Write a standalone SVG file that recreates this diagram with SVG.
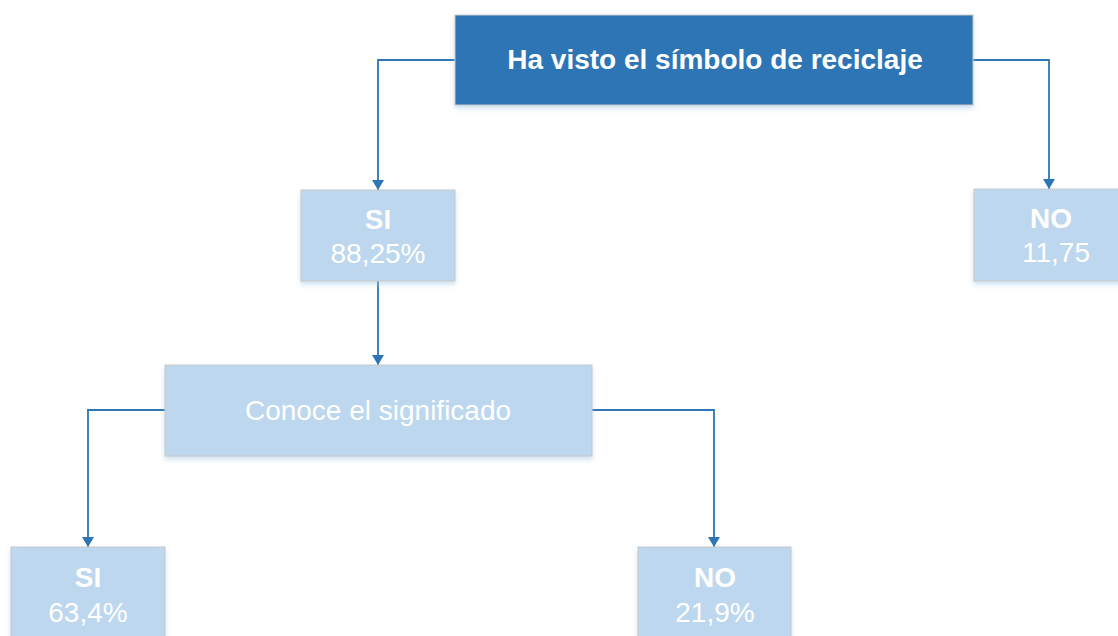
<svg xmlns="http://www.w3.org/2000/svg" width="1118" height="636" viewBox="0 0 1118 636">
<defs>
<filter id="sh" x="-10%" y="-10%" width="120%" height="130%">
<feDropShadow dx="0" dy="3" stdDeviation="2.5" flood-color="#9dc3e6" flood-opacity="0.5"/>
</filter>
<marker id="ar" markerWidth="12" markerHeight="12" refX="10" refY="6" orient="auto" markerUnits="userSpaceOnUse" viewBox="0 0 12 12">
<path d="M0,0 L10,6 L0,12 Z" fill="#2E75B6"/>
</marker>
<style>
text{font-family:"Liberation Sans",Arial,sans-serif;fill:#fff;text-anchor:middle}
.dark{fill:#2E75B6;stroke:#c9c9c9;stroke-width:1}
.light{fill:#BDD7EE;stroke:#c9c9c9;stroke-width:1}
.b{font-weight:bold;font-size:28px}
.r{font-size:28px}
.c{fill:none;stroke:#2E75B6;stroke-width:1.8}
</style>
</defs>
<g id="connectors">
<polyline class="c" points="455,60 378,60 378,190" marker-end="url(#ar)"/>
<polyline class="c" points="973,60 1049,60 1049,189" marker-end="url(#ar)"/>
<polyline class="c" points="378,281 378,365" marker-end="url(#ar)"/>
<polyline class="c" points="165,410 88,410 88,547" marker-end="url(#ar)"/>
<polyline class="c" points="592,410 714,410 714,547" marker-end="url(#ar)"/>
</g>
<g id="root">
<rect class="dark" x="455" y="15" width="518" height="90" filter="url(#sh)"/>
<text class="b" x="715" y="69">Ha visto el símbolo de reciclaje</text>
</g>
<g id="si1">
<rect class="light" x="301" y="190" width="154" height="91" filter="url(#sh)"/>
<text class="b" x="378" y="229">SI</text>
<text class="r" x="378" y="263">88,25%</text>
</g>
<g id="no1">
<rect class="light" x="974" y="189" width="150" height="92" filter="url(#sh)"/>
<text class="b" x="1051" y="228">NO</text>
<text class="r" x="1056" y="262">11,75</text>
</g>
<g id="conoce">
<rect class="light" x="165" y="365" width="427" height="91" filter="url(#sh)"/>
<text class="r" x="378" y="420">Conoce el significado</text>
</g>
<g id="si2">
<rect class="light" x="11" y="547" width="154" height="100" filter="url(#sh)"/>
<text class="b" x="88" y="587">SI</text>
<text class="r" x="88" y="622">63,4%</text>
</g>
<g id="no2">
<rect class="light" x="638" y="547" width="153" height="100" filter="url(#sh)"/>
<text class="b" x="715" y="587">NO</text>
<text class="r" x="715" y="622">21,9%</text>
</g>
</svg>
